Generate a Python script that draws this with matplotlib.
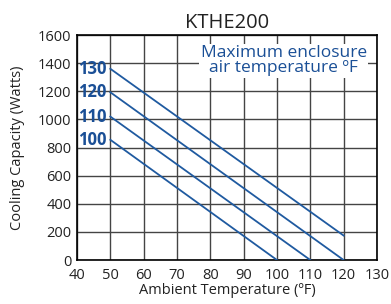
import matplotlib
matplotlib.use("Agg")
import matplotlib.pyplot as plt

plt.rcParams['font.family'] = ['Open Sans', 'DejaVu Sans']

series_labels = ["100", "110", "120", "130"]
x_start = [50, 50, 50, 50]
y_start = [855, 1020, 1193, 1360]
x_end = [100, 110, 120, 120]
y_end = [0, 0, 0, 174]
x_ticks = [40, 50, 60, 70, 80, 90, 100, 110, 120, 130]
y_ticks = [0, 200, 400, 600, 800, 1000, 1200, 1400, 1600]

blue = "#1f5aa0"
fig = plt.figure(figsize=(3.91, 3.04), dpi=100)
ax = fig.add_axes([0.197, 0.1447, 0.767, 0.740])
for lab, xs, ys, xe, ye in zip(series_labels, x_start, y_start, x_end, y_end):
    ax.plot([xs, xe], [ys, ye], color=blue, lw=1.3, zorder=3)
    ax.text(40.2, ys, lab, color="#1a4f96", fontsize=12, fontweight='bold',
            ha='left', va='center', zorder=4)
ax.set_xlim(40, 130)
ax.set_ylim(0, 1600)
ax.set_xticks(x_ticks)
ax.set_yticks(y_ticks)
ax.grid(True, color="#444444", lw=1.0)
ax.set_axisbelow(True)
ax.tick_params(length=0, labelsize=10.5, colors="#222222")
ax.tick_params(axis='y', pad=4)
ax.tick_params(axis='x', pad=6)
for s in ax.spines.values():
    s.set_color("black")
    s.set_linewidth(1.2)
ax.set_title("KTHE200", fontsize=14.5, color="#222222", pad=5)
ax.set_xlabel("Ambient Temperature (ºF)", fontsize=10.5, color="#222222", labelpad=0)
ax.set_ylabel("Cooling Capacity (Watts)", fontsize=10.5, color="#222222", labelpad=9)
ax.text(102, 1418, "Maximum enclosure\nair temperature ºF", color="#1a4f96",
        fontsize=12.5, ha='center', va='center', linespacing=0.95,
        bbox=dict(facecolor='white', edgecolor='none', pad=1), zorder=4)
fig.savefig("out.png", dpi=100)
